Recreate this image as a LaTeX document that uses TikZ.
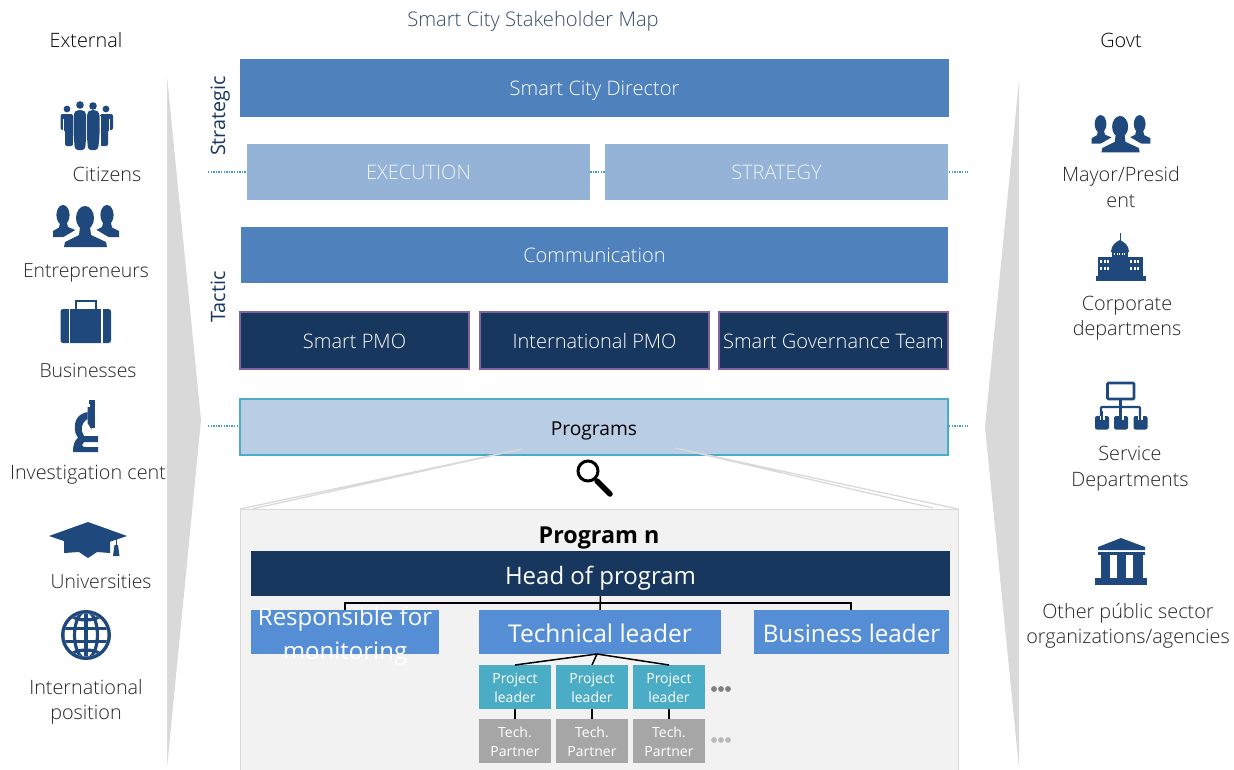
\documentclass[tikz,border=0pt]{standalone}
\usepackage{fontspec}
\setmainfont[UprightFont={* Light},BoldFont={* Bold}]{Open Sans}
\newfontfamily\regfont{Open Sans}
\definecolor{ico}{HTML}{1F497D}
\definecolor{navy}{HTML}{17375E}
\definecolor{midb}{HTML}{4F81BD}
\definecolor{lightb}{HTML}{95B3D7}
\definecolor{palb}{HTML}{B9CDE5}
\definecolor{tealb}{HTML}{4BACC6}
\definecolor{purp}{HTML}{8064A2}
\definecolor{brightb}{HTML}{558ED5}
\definecolor{wedge}{HTML}{D9D9D9}
\definecolor{panel}{HTML}{F2F2F2}
\definecolor{parb}{HTML}{A6A6A6}
\definecolor{txt}{HTML}{262626}
\newcommand{\fs}[1]{\fontsize{#1}{#1}\selectfont}
\newcommand{\stt}{\rule{0pt}{12.5pt}}
\tikzset{
 x=1pt,y=-1pt,
 box/.style={anchor=center,inner sep=0pt,outer sep=0pt,text=white,font=\fs{20},align=center,text height=15pt,text depth=0pt},
 bigbox/.style={box,font=\regfont\fs{24},text height=18pt},
 lbl/.style={inner sep=0pt,outer sep=0pt,text=txt,font=\fs{19.8},align=center,text height=14pt,text depth=4pt,yshift=-2pt},
 lnk/.style={black,line width=1.5pt},
 dotl/.style={midb!80!cyan,line width=1.4pt,dash pattern=on 1.3pt off 1.3pt},
 zoomline/.style={wedge,line width=1.3pt},
}
\newcommand{\busts}[3]{%
 \begin{scope}[shift={(#1,#2)},scale=#3]
  \fill[ico] (-23,-9) ellipse (6.6 and 10) (21,-9) ellipse (6.6 and 10);
  \fill[ico] (-33,13) -- (-33,7) -- (-27,3.5) -- (-26,-1) -- (-19,-1) -- (-18,3) -- (-6,8) -- (-6,13) -- cycle;
  \fill[ico] (33,13) -- (33,7) -- (26,3.5) -- (25,-1) -- (17,-1) -- (16,3) -- (6,8) -- (6,13) -- cycle;
  \fill[white] (-1,-6) ellipse (11.5 and 15);
  \fill[white] (-25,23) -- (-24,14) -- (-7,4) -- (7,4) -- (24,14) -- (25,23) -- cycle;
  \fill[ico] (-1,-6) ellipse (9 and 12);
  \fill[ico] (-22,23) -- (-21,18) -- (-7,11) -- (-6,3) -- (4,3) -- (5,11) -- (20,18) -- (21,23) -- cycle;
 \end{scope}}
\begin{document}
\begin{tikzpicture}[line join=miter]
\useasboundingbox (0,0) rectangle (1234,769);
% wedges
\fill[wedge] (167,76) -- (201,420) -- (167,768) -- cycle;
\fill[wedge] (1019,80) -- (985,427) -- (1019,768) -- cycle;
% dotted guide lines
\coordinate (d1l) at (208,172); \coordinate (d1r) at (968,172);
\coordinate (d2l) at (208,426); \coordinate (d2r) at (968,426);
\draw[dotl] (d1l) -- (d1r);
\draw[dotl] (d2l) -- (d2r);
% titles
\node[lbl,text=black] (ext) at (86,40) {External};
\node[lbl,text=black] (gov) at (1121,40) {Govt};
\node[lbl,text=navy!70!gray,font=\fs{20.2}] (title) at (533,19) {Smart City Stakeholder Map};
\node[lbl,text=navy,rotate=90] (strat) at (220,114) {\regfont Strategic};
\node[lbl,text=navy,rotate=90] (tact) at (220,295) {\regfont Tactic};
% upper boxes
\node[box,fill=midb,minimum width=709,minimum height=58] (dir) at (594.5,88) {Smart City Director};
\node[box,fill=lightb,minimum width=343,minimum height=56,text=white!85!lightb] (exec) at (418.5,172) {EXECUTION};
\node[box,fill=lightb,minimum width=343,minimum height=56,text=white!85!lightb] (stra) at (776.5,172) {STRATEGY};
\node[box,fill=midb,minimum width=707,minimum height=56] (comm) at (594.5,255) {Communication};
\tikzset{pmo/.style={box,fill=navy,draw=purp,line width=2.2pt,minimum width=229,minimum height=57}}
\node[pmo] (p1) at (354.5,340.5) {Smart PMO};
\node[pmo] (p2) at (594.5,340.5) {International PMO};
\node[pmo] (p3) at (833.5,340.5) {Smart Governance Team};
\node[box,fill=palb,draw=tealb,line width=1.4pt,minimum width=708,minimum height=56,text=black,font=\regfont\fs{19.2},text height=16pt] (prog) at (594,427) {Programs};
% panel
\node[box,fill=panel,draw=wedge,line width=1pt,minimum width=718,minimum height=262] (pan) at (599,640) {};
\coordinate (zl) at (522,449); \coordinate (zr) at (675,448);
\coordinate (zl1) at (240,509); \coordinate (zl2) at (252,509);
\coordinate (zr1) at (958,509); \coordinate (zr2) at (933,508);
\draw[zoomline] (zl) -- (zl1) (zl) -- (zl2) (zr) -- (zr1) (zr) -- (zr2);
% magnifier
\draw[black,line width=3pt] (588,471) circle (10);
\draw[black,line width=5.5pt,line cap=round] (597,481) -- (610,494);
\node[lbl,text=black,font=\bfseries\fs{23.3}] (pn) at (599,536) {Program n};
\node[bigbox,fill=navy,minimum width=699,minimum height=45,text height=22pt] (head) at (600.5,573.5) {Head of program};
\node[box,fill=brightb,minimum width=188,minimum height=44] (resp) at (345,632) {};
\node[bigbox,fill=brightb,minimum width=242,minimum height=44,font=\regfont\fs{24.5},text height=20pt] (tech) at (600,632) {Technical leader};
\node[bigbox,fill=brightb,minimum width=195,minimum height=44,font=\regfont\fs{24.2},text height=20pt] (bus) at (851.5,632) {Business leader};
% tree
\coordinate (hl) at (345,603);
\coordinate (hr) at (851,603);
\draw[lnk] (head.south) -- (tech.north);
\draw[lnk] (hl |- resp.north) -- (hl) -- (hr) -- (hr |- bus.north);
\node[bigbox] (resptxt) at (345,616) {Responsible for};
\node[bigbox] (resptxtb) at (345,650) {monitoring};
\tikzset{pl/.style={box,fill=tealb,minimum width=72,minimum height=44,font=\regfont\fs{14},align=center,text height=,text depth=},
 tp/.style={box,fill=parb,minimum width=72,minimum height=44,font=\regfont\fs{14},align=center,text height=,text depth=}}
\node[pl] (a1) at (515,687) {\stt Project\\[5pt]leader};
\node[pl] (a2) at (592,687) {\stt Project\\[5pt]leader};
\node[pl] (a3) at (669,687) {\stt Project\\[5pt]leader};
\node[tp] (b1) at (515,741) {\stt Tech.\\[5pt]Partner};
\node[tp] (b2) at (592,741) {\stt Tech.\\[5pt]Partner};
\node[tp] (b3) at (669,741) {\stt Tech.\\[5pt]Partner};
\coordinate (tb) at (597,654);
\draw[lnk] (tb) -- (a1.north) (tb) -- (a2.north) (tb) -- (a3.north);
\draw[lnk] (a1.south) -- (b1.north);
\draw[lnk] (a2.south) -- (b2.north);
\draw[lnk] (a3.south) -- (b3.north);
\fill[gray] (714,689) circle (2.9) (721,689) circle (2.9) (728,689) circle (2.9);
\fill[gray!55] (714,740) circle (2.9) (721,740) circle (2.9) (728,740) circle (2.9);
% labels left
\node[lbl] (l1) at (107,174) {Citizens};
\node[lbl,font=\fs{19.4}] (l2) at (86,270) {Entrepreneurs};
\node[lbl,font=\fs{19.4}] (l3) at (88,370) {Businesses};
\node[lbl] (l4) at (88,472) {Investigation cent};
\node[lbl,font=\fs{19.4}] (l5) at (101,581) {Universities};
\node[lbl] (l6) at (86,687) {International};
\node[lbl] (l6b) at (86,712) {position};
% labels right
\node[lbl] (r1) at (1121,174) {Mayor/Presid};
\node[lbl] (r1b) at (1121,200) {ent};
\node[lbl] (r2) at (1127,303) {Corporate};
\node[lbl] (r2b) at (1127,328) {departmens};
\node[lbl] (r3) at (1130,453) {Service};
\node[lbl] (r3b) at (1130,479) {Departments};
\node[lbl] (r4) at (1128,611) {Other públic sector};
\node[lbl] (r4b) at (1128,636) {organizations/agencies};
% citizens icon
\begin{scope}
 \fill[ico] (67,109) circle (3.4) (80,105) circle (3.8) (93,106) circle (3.8) (106,109) circle (3.4);
 \fill[ico,rounded corners=2pt] (60.5,130) -- (60.5,114) -- (73,114) -- (73,146) -- (65,146) -- (65,130) -- cycle;
 \fill[ico,rounded corners=2pt] (113,130) -- (113,114) -- (100,114) -- (100,146) -- (108,146) -- (108,130) -- cycle;
 \draw[white,line width=.9pt] (73.2,116) -- (73.2,150) (86.6,116) -- (86.6,150) (100,116) -- (100,150);
 \draw[white,line width=.8pt] (63.7,119) -- (63.7,131) (109.3,119) -- (109.3,131);
 \fill[ico,rounded corners=3pt] (73.7,113) -- (77,110) -- (83,110) -- (86.2,113) -- (86.2,137) -- (85,150) -- (75,150) -- (73.7,137) -- cycle;
 \fill[ico,rounded corners=3pt] (87,113) -- (90,110) -- (96,110) -- (99.5,113) -- (99.5,137) -- (98,150) -- (88,150) -- (87,137) -- cycle;
\end{scope}
\busts{86}{224}{1}
\busts{1121}{132}{.89}
% briefcase
\fill[ico,rounded corners=2.5pt] (60.5,309) rectangle (111,343);
\draw[white,line width=1.3pt] (69.5,309) -- (69.5,343) (102,309) -- (102,343);
\draw[ico,line width=1.7pt] (76,309) -- (76,301) -- (96,301) -- (96,309);
% microscope
\fill[ico] (89,400) rectangle (95,404);
\fill[ico] (90,404) rectangle (94.5,428);
\fill[ico] (87.5,407) -- (90,407) -- (90,423) -- (92,430) -- (87.5,423) -- cycle;
\fill[ico] (87.5,412) .. controls (78,414) and (74,420) .. (75,430) .. controls (75,434) and (78,437) .. (78,438)
 .. controls (75,440) and (73,444) .. (73,452) -- (98,452) -- (98,447) -- (84,447) -- (82,445) -- (84,442) -- (98,442)
 -- (98,436) -- (84,436) .. controls (80,430) and (81,423) .. (87.5,419) -- cycle;
% grad cap
\fill[ico] (49,536) -- (88,522) -- (127,536) -- (88,549) -- cycle;
\fill[ico] (64,538) -- (88,545) -- (110,538) -- (110,553) -- (97,552) -- (88,558) -- (79,552) -- (64,553) -- cycle;
\fill[ico] (115.5,539) rectangle (116.8,545);
\fill[ico] (113,556) -- (114.5,545) -- (118,545) -- (119.5,556) -- cycle;
% globe
\begin{scope}
 \fill[ico] (86,635) circle (25);
 \clip (86,635) circle (21.5);
 \fill[white] (61,610) rectangle (111,660);
 \draw[ico,line width=3.6pt] (86,610) -- (86,660) (61,628.5) -- (111,628.5) (61,641.5) -- (111,641.5);
 \draw[ico,line width=3.2pt] (86,635) ellipse (11.5 and 24);
 \draw[ico,line width=3.2pt] (86,602) ellipse (24 and 18) (86,668) ellipse (24 and 18);
\end{scope}
% capitol
\begin{scope}
 \fill[ico] (1119.5,233) rectangle (1120.7,244);
 \fill[ico] (1111,252) .. controls (1111,245) and (1116,242) .. (1120,240) .. controls (1124,242) and (1129,245) .. (1129,252) -- cycle;
 \fill[ico] (1112,251) rectangle (1128,259);
 \fill[ico] (1098,257) rectangle (1143,276);
 \fill[ico] (1095.5,276) rectangle (1145.5,281);
 \foreach \x in {1100,1103.5,1107,1130,1133.5,1137} {
  \fill[white] (\x,259.5) rectangle ++(2.4,3.4);
  \fill[white] (\x,267) rectangle ++(2.4,3.4);
 }
 \foreach \x in {1114,1116.5,1119,1121.5,1124} \fill[white] (\x,253) rectangle ++(1.4,2);
\end{scope}
% org chart
\begin{scope}
 \draw[ico,line width=2.6pt,rounded corners=1pt] (1107.5,383) rectangle (1134,399);
 \draw[ico,line width=2.2pt] (1120.5,399) -- (1120.5,420);
 \draw[ico,line width=2.2pt,rounded corners=1pt] (1101,420) -- (1101,407) -- (1140,407) -- (1140,420);
 \foreach \x in {1095,1114,1133.5} {
  \fill[ico,rounded corners=2pt] (\x,416) rectangle ++(14,13.5);
  \fill[white] (\x+4.5,416) rectangle ++(5,4);
 }
 \draw[ico,line width=2.2pt] (1101.7,411) -- (1101.7,420) (1120.5,411) -- (1120.5,420) (1140.2,411) -- (1140.2,420);
\end{scope}
% institution
\begin{scope}
 \fill[ico] (1121,538) -- (1145,547) -- (1145,550) -- (1098,550) -- (1098,547) -- cycle;
 \fill[ico] (1098,552) rectangle (1145,555);
 \foreach \x in {1100.5,1116.5,1133} {
  \fill[ico] (\x,555) rectangle ++(9.5,23);
 }
 \fill[ico] (1094.5,578) rectangle (1147,584.5);
\end{scope}
\end{tikzpicture}
\end{document}
